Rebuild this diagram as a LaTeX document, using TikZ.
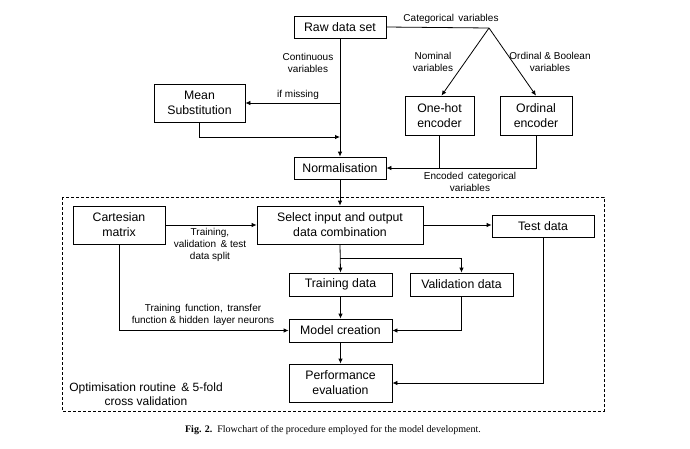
\documentclass[tikz,border=0pt]{standalone}
\usepackage{fontspec}
\setmainfont{Liberation Sans}
\newfontfamily\capfont{Liberation Serif}
\usetikzlibrary{arrows.meta}
\tikzset{
  box/.style={draw, line width=0.8pt, align=center, inner sep=0pt,
    font=\fontsize{12.3}{15}\selectfont},
  lbl/.style={align=center, inner sep=0pt, font=\fontsize{10}{12}\selectfont},
  conn/.style={line width=0.8pt},
  arr/.style={line width=0.8pt, -{Latex[length=5pt,width=4.5pt]}},
  dashbox/.style={line width=0.8pt, dash pattern=on 3pt off 2pt}
}
\begin{document}
\begin{tikzpicture}[x=1pt,y=-1pt]
\useasboundingbox (0,0) rectangle (690,448);
% boxes
\node[box, minimum width=92pt, minimum height=22pt] (raw) at (340,27) {Raw data set};
\node[box, minimum width=91pt, minimum height=38pt] (mean) at (199.5,103) {Mean\\Substitution};
\node[box, minimum width=69pt, minimum height=39pt] (onehot) at (439.5,115.5) {One-hot\\encoder};
\node[box, minimum width=72pt, minimum height=39pt] (ordinal) at (536,115.5) {Ordinal\\encoder};
\node[box, minimum width=92pt, minimum height=22pt] (norm) at (340,168) {Normalisation};
\node[box, minimum width=92pt, minimum height=38pt] (cart) at (119,225) {Cartesian\\matrix};
\node[box, minimum width=166pt, minimum height=38pt] (select) at (340,225) {Select input and output\\data combination};
\node[box, minimum width=102pt, minimum height=22pt] (test) at (543,226) {Test data};
\node[box, minimum width=103pt, minimum height=23pt] (train) at (340.5,284.5) {Training data};
\node[box, minimum width=103pt, minimum height=23pt] (valid) at (461.5,284.5) {Validation data};
\node[box, minimum width=103pt, minimum height=23pt] (model) at (340.5,330.5) {Model creation};
\node[box, minimum width=103pt, minimum height=38pt] (perf) at (340.5,383) {Performance\\evaluation};
% dashed frame
\draw[dashbox] (62,197) rectangle (604,411);
% coordinates
\coordinate (cat) at (489,28);
\coordinate (miss) at (340,103);
\coordinate (back) at (340,137);
\coordinate (enc) at (536,168);
\coordinate (split) at (340,258);
% connectors
\draw[arr] (raw.south -| norm.north) -- (norm.north);
\draw[arr] (miss) -- (mean.east |- miss);
\draw[arr] (mean.south) |- (back);
\draw[conn] (raw.east) -- (cat);
\draw[arr] (cat) -- ([xshift=2pt]onehot.north);
\draw[arr] (cat) -- (ordinal.north);
\draw[conn] (onehot.south) -- (onehot.south |- enc);
\draw[arr] (ordinal.south) -- (enc) -- (norm.east);
\draw[arr] (norm.south) -- (select.north);
\draw[arr] (cart.east) -- (select.west);
\draw[arr] (select.east) -- (select.east -| test.west);
\draw[arr] (select.south) -- (train.north);
\draw[arr] (split) -| (valid.north);
\draw[arr] (train.south) -- (model.north);
\draw[arr] (valid.south) |- (model.east);
\draw[arr] (cart.south) |- (model.west);
\draw[arr] (model.south) -- (perf.north);
\draw[arr] (test.south) |- (perf.east);
% labels
\node[lbl] (lcat) at (451,19) {Categorical\, variables};
\node[lbl] (lcont) at (308,63) {Continuous\\variables};
\node[lbl] (lmiss) at (298,95) {if missing};
\node[lbl] (lnom) at (433,62) {Nominal\\variables};
\node[lbl] (lord) at (550,62) {Ordinal \& Boolean\\variables};
\node[lbl] (lenc) at (470,182) {Encoded\, categorical\\variables};
\node[lbl] (lsplit) at (210,245) {Training,\\validation \,\& test\\data split};
\node[lbl] (lfun) at (203,314.5) {Training\, function,\, transfer\\function \& hidden\, layer neurons};
\node[align=center, inner sep=0pt, font=\fontsize{12}{14}\selectfont] (lopt) at (146,394) {Optimisation routine \,\& 5-fold\\cross validation};
\node[inner sep=0pt, font=\capfont\fontsize{10}{12}\selectfont] (cap) at (333,430) {\textbf{Fig. 2.}\ \ Flowchart of the procedure employed for the model development.};
\end{tikzpicture}
\end{document}
